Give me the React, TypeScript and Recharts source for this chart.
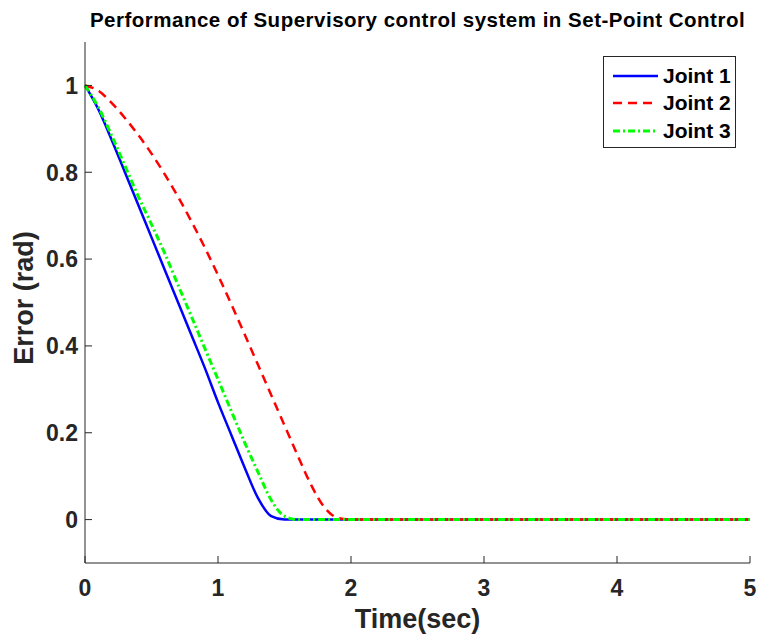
import { Label, Legend, Line, LineChart, XAxis, YAxis } from "recharts";

// sampled time grid (sec)
const time = [0, 0.1, 0.2, 0.3, 0.4, 0.5, 0.6, 0.7, 0.8, 0.9, 1.0, 1.1, 1.2, 1.3, 1.4, 1.5, 1.6, 1.7, 1.8, 1.9, 2.0, 5];

// error (rad)
const joint1 = [1, 0.945, 0.875, 0.8, 0.725, 0.65, 0.575, 0.5, 0.425, 0.35, 0.27, 0.195, 0.12, 0.05, 0.008, 0, 0, 0, 0, 0, 0, 0];
const joint2 = [1, 0.988, 0.96, 0.925, 0.886, 0.843, 0.795, 0.743, 0.687, 0.627, 0.563, 0.496, 0.427, 0.357, 0.287, 0.217, 0.147, 0.08, 0.028, 0.004, 0, 0];
const joint3 = [1, 0.95, 0.885, 0.815, 0.745, 0.68, 0.613, 0.54, 0.468, 0.395, 0.323, 0.25, 0.178, 0.11, 0.045, 0.008, 0, 0, 0, 0, 0, 0];

const xTicks = [0, 1, 2, 3, 4, 5];
const yTicks = [0, 0.2, 0.4, 0.6, 0.8, 1];

const series = [
  { key: "j1", name: "Joint 1", color: "#0000ff", dash: undefined as string | undefined, width: 2.5 },
  { key: "j2", name: "Joint 2", color: "#ff0000", dash: "9 6", width: 2.5 },
  { key: "j3", name: "Joint 3", color: "#00ff00", dash: "7 3 2 3", width: 3 },
];

const data = time.map((t, i) => ({ t, j1: joint1[i], j2: joint2[i], j3: joint3[i] }));

const AXIS = "#262626";
const FONT = "'Liberation Sans', Arial, Helvetica, sans-serif";
const TICK = 7;

function LeftTick({ x, y, payload }: any) {
  return (
    <g>
      <line x1={x} x2={x + TICK} y1={y} y2={y} stroke={AXIS} />
      <text x={x - 7} y={y} dy="0.36em" textAnchor="end" fontSize={23} fontWeight="bold" fill={AXIS} fontFamily={FONT}>
        {payload.value}
      </text>
    </g>
  );
}

function BottomTick({ x, y, payload }: any) {
  return (
    <g>
      <line x1={x} x2={x} y1={y} y2={y - TICK} stroke={AXIS} />
      <text x={x} y={y + 33} textAnchor="middle" fontSize={23} fontWeight="bold" fill={AXIS} fontFamily={FONT}>
        {payload.value}
      </text>
    </g>
  );
}

function RightTick({ x, y }: any) {
  return <line x1={x} x2={x - TICK} y1={y} y2={y} stroke={AXIS} />;
}

function TopTick({ x, y }: any) {
  return <line x1={x} x2={x} y1={y} y2={y + TICK} stroke={AXIS} />;
}

function XLabel({ viewBox }: any) {
  return (
    <text x={viewBox.x + viewBox.width / 2} y={628} textAnchor="middle" fontSize={27} fontWeight="bold" fill={AXIS} fontFamily={FONT}>
      Time(sec)
    </text>
  );
}

function YLabel() {
  return (
    <text x={33} y={298} transform="rotate(-90 33 298)" textAnchor="middle" fontSize={27} fontWeight="bold" fill={AXIS} fontFamily={FONT}>
      Error (rad)
    </text>
  );
}

function LegendBox() {
  return (
    <div style={{ border: `1px solid ${AXIS}`, background: "#fff", padding: "5px 0", boxSizing: "border-box", height: 92, fontFamily: FONT }}>
      {series.map((s) => (
        <div key={s.key} style={{ display: "flex", alignItems: "center", height: 27.5 }}>
          <svg width={54} height={10} style={{ flex: "none" }}>
            <line x1={9} x2={54} y1={5} y2={5} stroke={s.color} strokeWidth={s.width} strokeDasharray={s.dash} />
          </svg>
          <span style={{ fontSize: 21, fontWeight: "bold", color: "#000", marginLeft: 5 }}>{s.name}</span>
        </div>
      ))}
    </div>
  );
}

export default function App() {
  return (
    <div style={{ position: "absolute", left: 0, top: 0, width: 758, height: 635, background: "#fff" }}>
      <div
        style={{
          position: "absolute",
          left: 60,
          width: 715,
          top: 10,
          lineHeight: "20px",
          textAlign: "center",
          fontFamily: FONT,
          fontWeight: "bold",
          fontSize: 20.5,
          letterSpacing: 0.5,
          color: "#000",
          zIndex: 1,
        }}
      >
        Performance of Supervisory control system in Set-Point Control
      </div>
      <LineChart width={758} height={635} data={data} margin={{ top: 42, right: 8, bottom: 0, left: 0 }}>
        <XAxis
          xAxisId="b"
          dataKey="t"
          type="number"
          domain={[0, 5]}
          ticks={xTicks}
          interval={0}
          height={72}
          tickSize={0}
          tickMargin={0}
          tickLine={false}
          tick={<BottomTick />}
          axisLine={{ stroke: AXIS }}
        >
          <Label content={<XLabel />} />
        </XAxis>
        <XAxis
          xAxisId="t"
          orientation="top"
          dataKey="t"
          type="number"
          domain={[0, 5]}
          ticks={xTicks}
          interval={0}
          height={0}
          tickSize={0}
          tickMargin={0}
          tickLine={false}
          tick={<TopTick />}
          axisLine={{ stroke: AXIS }}
        />
        <YAxis
          yAxisId="l"
          type="number"
          domain={[-0.1, 1.1]}
          ticks={yTicks}
          interval={0}
          width={85}
          tickSize={0}
          tickMargin={0}
          tickLine={false}
          tick={<LeftTick />}
          axisLine={{ stroke: AXIS }}
        >
          <Label content={<YLabel />} />
        </YAxis>
        <YAxis
          yAxisId="r"
          orientation="right"
          type="number"
          domain={[-0.1, 1.1]}
          ticks={yTicks}
          interval={0}
          width={0}
          tickSize={0}
          tickMargin={0}
          tickLine={false}
          tick={<RightTick />}
          axisLine={{ stroke: "#9a9a9a" }}
        />
        <Legend
          layout="horizontal"
          verticalAlign="middle"
          align="center"
          wrapperStyle={{ left: 603, top: 56, width: 133, height: 92 }}
          content={<LegendBox />}
        />
        {series.map((s) => (
          <Line
            key={s.key}
            xAxisId="b"
            yAxisId="l"
            type="monotone"
            dataKey={s.key}
            name={s.name}
            stroke={s.color}
            strokeWidth={s.width}
            strokeDasharray={s.dash}
            dot={false}
            activeDot={false}
            isAnimationActive={false}
          />
        ))}
      </LineChart>
    </div>
  );
}
